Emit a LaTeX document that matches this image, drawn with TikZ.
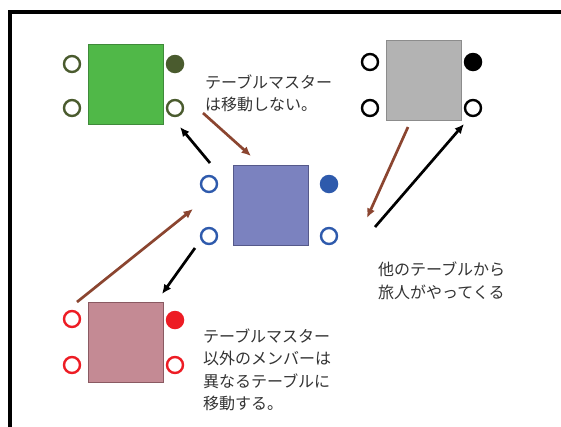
\documentclass[tikz,border=0pt]{standalone}
\usepackage{fontspec}
\setmainfont{Noto Sans CJK JP}
\usetikzlibrary{arrows.meta}
\definecolor{grfill}{HTML}{50B848}
\definecolor{grdraw}{HTML}{3F8A3A}
\definecolor{grseat}{HTML}{4A5B2E}
\definecolor{gyfill}{HTML}{B3B3B3}
\definecolor{gydraw}{HTML}{8C8C8C}
\definecolor{blfill}{HTML}{7B82BF}
\definecolor{bldraw}{HTML}{55598A}
\definecolor{blseat}{HTML}{2E5AAC}
\definecolor{pkfill}{HTML}{C48A94}
\definecolor{pkdraw}{HTML}{8A5A62}
\definecolor{rdseat}{HTML}{ED1C24}
\definecolor{brarrow}{HTML}{8B4530}
\definecolor{txt}{HTML}{333333}
\tikzset{
  tablebox/.style={draw, line width=1pt, minimum width=75pt, minimum height=80pt, inner sep=0pt},
  seat/.style={circle, draw=#1, line width=2.4pt, minimum size=16pt, inner sep=0pt, fill=white},
  seatfull/.style={circle, fill=#1, minimum size=18.5pt, inner sep=0pt},
  move/.style={line width=2.7pt, -{Latex[length=9.5pt,width=8.5pt]}},
  note/.style={text=txt, font=\fontsize{16}{22.3}\selectfont, align=left, inner sep=0pt, anchor=base west},
}
\begin{document}
\begin{tikzpicture}[x=1pt,y=-1pt]
\useasboundingbox (0,0) rectangle (561,426);
\draw[line width=4pt] (9.5,450) -- (9.5,12) -- (600,12);
% green table
\node[tablebox, fill=grfill, draw=grdraw] (gt) at (125.5,84) {};
\node[seat=grseat] (g1) at (72,64) {};
\node[seat=grseat] (g2) at (72,108) {};
\node[seatfull=grseat] (g3) at (175,64) {};
\node[seat=grseat] (g4) at (175,108) {};
% gray table
\node[tablebox, fill=gyfill, draw=gydraw] (yt) at (423.5,80) {};
\node[seat=black] (y1) at (370,62) {};
\node[seat=black] (y2) at (370,108) {};
\node[seatfull=black] (y3) at (473,62) {};
\node[seat=black] (y4) at (473,108) {};
% blue table
\node[tablebox, fill=blfill, draw=bldraw] (bt) at (270.5,205.5) {};
\node[seat=blseat] (b1) at (209,184) {};
\node[seat=blseat] (b2) at (209,236) {};
\node[seatfull=blseat] (b3) at (329,184) {};
\node[seat=blseat] (b4) at (329,236) {};
% pink table
\node[tablebox, fill=pkfill, draw=pkdraw] (pt) at (125.5,342.5) {};
\node[seat=rdseat] (p1) at (72,319) {};
\node[seat=rdseat] (p2) at (72,365) {};
\node[seatfull=rdseat] (p3) at (175,320) {};
\node[seat=rdseat] (p4) at (175,365) {};
% arrow ends
\coordinate (a1s) at (210,163); \coordinate (a1e) at (180,127);
\coordinate (a2s) at (203,113); \coordinate (a2e) at (251,156);
\coordinate (a3s) at (408,127); \coordinate (a3e) at (367,218);
\coordinate (a4s) at (375,227); \coordinate (a4e) at (464,124);
\coordinate (a5s) at (77,302);  \coordinate (a5e) at (193,209);
\coordinate (a6s) at (195,248); \coordinate (a6e) at (162,294);
\draw[move, black] (a1s) -- (a1e);
\draw[move, brarrow] (a2s) -- (a2e);
\draw[move, brarrow] (a3s) -- (a3e);
\draw[move, black] (a4s) -- (a4e);
\draw[move, brarrow] (a5s) -- (a5e);
\draw[move, black] (a6s) -- (a6e);
% notes (base anchor = baseline of last line)
\node[note] (n1) at (205,110.5) {テーブルマスター\\は移動しない。};
\node[note] (n2) at (378,298) {他のテーブルから\\旅人がやってくる};
\node[note] (n3) at (203,409.5) {テーブルマスター\\以外のメンバーは\\異なるテーブルに\\移動する。};
\end{tikzpicture}
\end{document}
